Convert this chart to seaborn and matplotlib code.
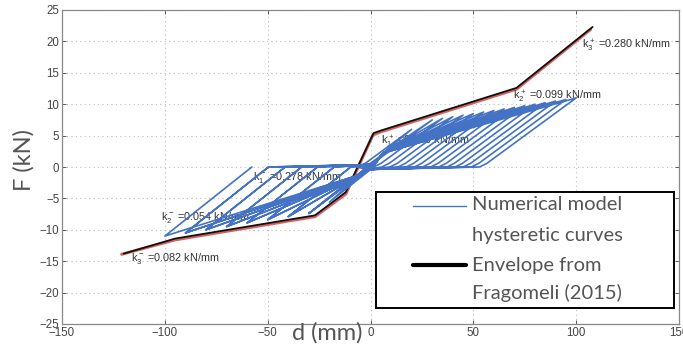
import numpy as np
import pandas as pd
import matplotlib
matplotlib.use("Agg")
import matplotlib.pyplot as plt
from matplotlib.lines import Line2D
from matplotlib.patches import Rectangle
import seaborn as sns

# ---------------- data ----------------
# positive peaks of the numerical hysteretic cycles (d in mm, F in kN)
pos_peak_d = [10, 20, 30, 35, 40, 45, 50, 55, 60, 65, 70, 75, 80, 85, 90, 95, 100]
pos_peak_F = [3.0, 6.0, 7.5, 7.75, 8.0, 8.25, 8.5, 8.75, 9.0, 9.25, 9.5, 9.75, 10.0, 10.25, 10.5, 10.75, 11.0]
# negative peaks
neg_peak_d = [-10, -20, -30, -30, -40, -40, -50, -50, -60, -60, -70, -70, -80, -80, -90, -90, -100]
neg_peak_F = [-2.8, -5.6, -7.4, -7.4, -7.9, -7.9, -8.4, -8.4, -8.9, -8.9, -9.5, -9.5, -10.0, -10.0, -10.5, -10.5, -11.0]
unload_k_pos = 0.24      # unloading stiffness after + peaks (kN/mm)
unload_k_neg = 0.26      # unloading stiffness after - peaks (kN/mm)
base_pos = (2.0, 0.4)    # end of baseline before reloading towards + peaks
pinch_pos = (6.0, 2.2)   # pinch point for reloading towards + peaks
base_neg = (-2.0, -0.4)
pinch_neg = (-5.0, -1.2)

# envelope from Fragomeli (2015)
env_d = [-120, -95, -27, -12, 1.5, 5, 71, 108]
env_F = [-13.8, -11.4, -7.7, -4.0, 5.4, 5.8, 12.6, 22.3]
# experimental (red) curve under the envelope
exp_d = [-121, -95, -27, -12, 1.2, 5, 71, 107]
exp_F = [-13.9, -11.6, -7.9, -4.3, 5.1, 5.6, 12.4, 21.9]

labels = [
    (r"$\mathregular{k_3^+}$ =0.280 kN/mm", 103, 19.3),
    (r"$\mathregular{k_2^+}$ =0.099 kN/mm", 69.5, 11.1),
    (r"$\mathregular{k_1^+}$ =0.700 kN/mm", 4.9, 4.0),
    (r"$\mathregular{k_1^-}$ =0.278 kN/mm", -57, -1.75),
    (r"$\mathregular{k_2^-}$ =0.054 kN/mm", -102, -8.1),
    (r"$\mathregular{k_3^-}$ =0.082 kN/mm", -116.5, -14.6),
]

# ---------------- build the hysteretic path ----------------
hd, hF = [0.0], [0.0]
for dp, Fp, dn, Fn in zip(pos_peak_d, pos_peak_F, neg_peak_d, neg_peak_F):
    # reload to positive peak
    hd += [base_pos[0], pinch_pos[0], dp]
    hF += [base_pos[1], pinch_pos[1], Fp]
    # unload (rounded near zero force)
    hd += [dp - (Fp - 0.6) / unload_k_pos, dp - Fp / unload_k_pos - 1.2]
    hF += [0.6, 0.0]
    # travel along baseline, then reload to negative peak
    hd += [base_neg[0], pinch_neg[0], dn]
    hF += [base_neg[1], pinch_neg[1], Fn]
    # unload negative
    hd += [dn - Fn / unload_k_neg]
    hF += [0.0]
hyst = pd.DataFrame({"d": hd, "F": hF})
env = pd.DataFrame({"d": env_d, "F": env_F})
exp = pd.DataFrame({"d": exp_d, "F": exp_F})

# ---------------- plot ----------------
sns.set_theme(style="white")
plt.rcParams["font.family"] = ["Liberation Sans", "DejaVu Sans"]

fig = plt.figure(figsize=(6.83, 3.44), dpi=100)
ax = fig.add_axes([62 / 683, 20 / 344, (679 - 62) / 683, (324 - 10) / 344])

blue = "#4472C4"
sns.lineplot(data=exp, x="d", y="F", sort=False, estimator=None, ax=ax,
             color="#c8302c", lw=2.2, alpha=0.75, zorder=2)
sns.lineplot(data=env, x="d", y="F", sort=False, estimator=None, ax=ax,
             color="#111111", lw=1.3, zorder=3)
sns.lineplot(data=hyst, x="d", y="F", sort=False, estimator=None, ax=ax,
             color=blue, lw=1.2, zorder=5)

for txt, x, y in labels:
    ax.text(x, y, txt, fontsize=7.8, color="#333333", ha="left", va="center", zorder=4)

ax.set_xlim(-150, 150)
ax.set_ylim(-25, 25)
ax.set_xticks(np.arange(-150, 151, 50))
ax.set_yticks(np.arange(-25, 26, 5))
ax.grid(True, color="#bbbbbb", lw=0.8, ls=(0, (1, 3)))
ax.tick_params(axis="both", labelsize=8.3, colors="#444444", direction="in",
               length=3, width=0.6, pad=2, top=True, right=True, left=True, bottom=True)
for s in ax.spines.values():
    s.set_color("#888888")
    s.set_linewidth(0.9)
ax.set_xlabel("")
ax.set_ylabel("")

fig.text(327 / 683, 1 - 333 / 344, "d (mm)", fontsize=17, color="#555555",
         family="Lato", ha="center", va="center")
fig.text(24 / 683, 1 - 160 / 344, "F (kN)", fontsize=17, color="#555555",
         family="Lato", ha="center", va="center", rotation=90)

# manual legend
fig.add_artist(Rectangle((376 / 683, 1 - 308 / 344), (674 - 376) / 683, (308 - 192) / 344,
                         transform=fig.transFigure, fill=True, facecolor="white",
                         edgecolor="black", lw=1.4, zorder=10))
fig.add_artist(Line2D([413 / 683, 466 / 683], [1 - 206 / 344] * 2, transform=fig.transFigure,
                      color=blue, lw=1.0, zorder=11))
fig.add_artist(Line2D([413 / 683, 466 / 683], [1 - 265 / 344] * 2, transform=fig.transFigure,
                      color="black", lw=3.0, zorder=11))
for txt, yp in [("Numerical model", 205), ("hysteretic curves", 236),
                ("Envelope from", 265), ("Fragomeli (2015)", 293)]:
    fig.text(472 / 683, 1 - yp / 344, txt, fontsize=14.5, color="#555555",
             family="Lato", ha="left", va="center", zorder=12)

fig.savefig("out.png", dpi=100)
